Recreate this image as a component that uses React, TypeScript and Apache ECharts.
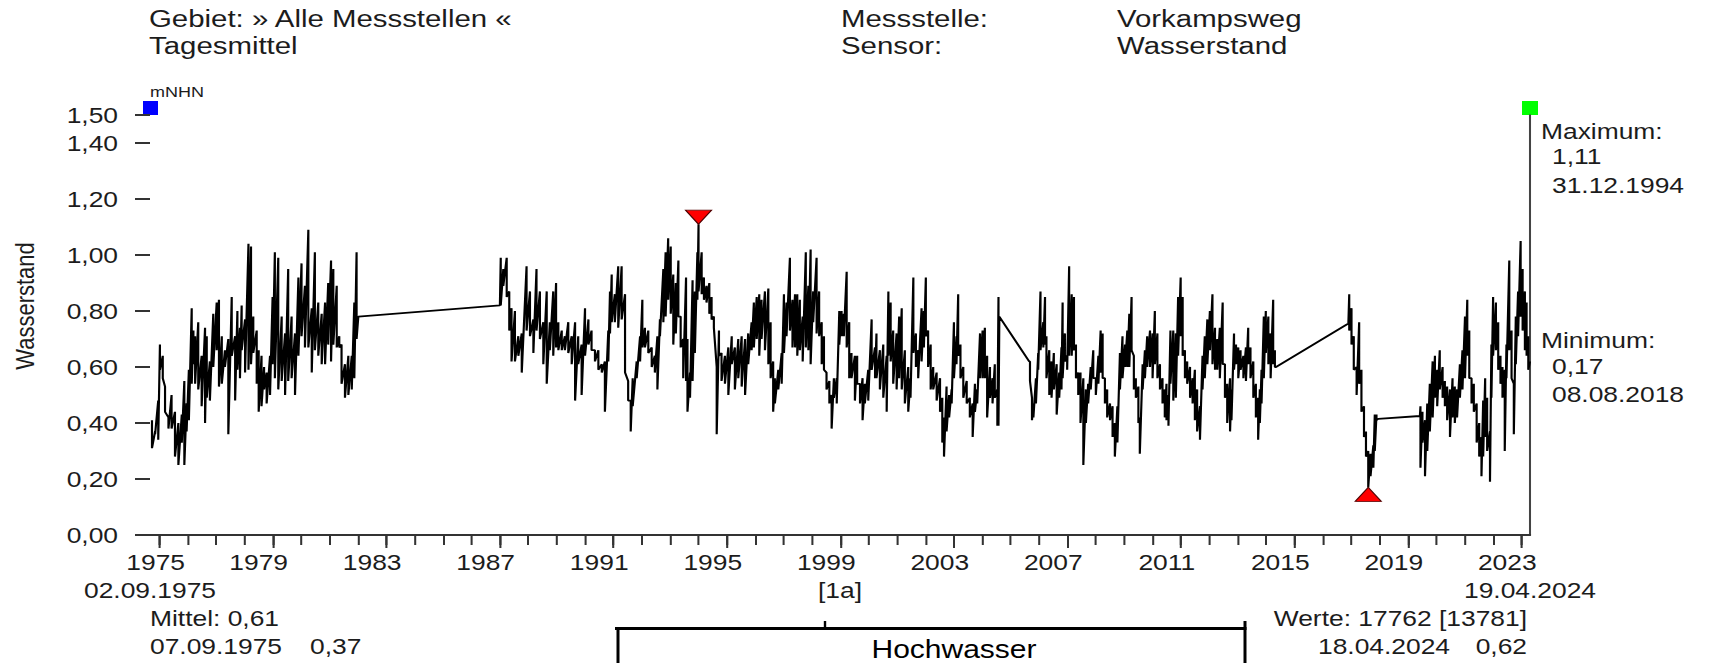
import React, { useEffect, useRef } from 'react';
import * as echarts from 'echarts';

// ---------- data (decimal years, water level in m NHN) ----------
const X_START = 1975.67; // 02.09.1975
const X_END = 2024.3; // 19.04.2024
const LABEL_YEARS = [1975, 1979, 1983, 1987, 1991, 1995, 1999, 2003, 2007, 2011, 2015, 2019, 2023];
const Y_TICKS = [0, 0.2, 0.4, 0.6, 0.8, 1.0, 1.2, 1.4, 1.5];
const MAX_POINT = [1995.0, 1.11]; // 31.12.1994
const MIN_POINT = [2018.6, 0.17]; // 08.08.2018

// [year, high, low] envelope readings of the daily means
const P1975 = [
  [1975.74, 0.41, 0.31], [1975.85, 0.37, 0.36], [1975.96, 0.48, 0.34], [1976.02, 0.68, 0.59], [1976.12, 0.64, 0.56],
  [1976.2, 0.53, 0.44], [1976.32, 0.42, 0.38], [1976.43, 0.5, 0.38], [1976.55, 0.44, 0.28], [1976.67, 0.4, 0.25],
  [1976.79, 0.43, 0.33], [1976.88, 0.55, 0.25], [1976.96, 0.47, 0.37], [1977.04, 0.59, 0.41], [1977.14, 0.81, 0.54],
  [1977.2, 0.73, 0.61], [1977.26, 0.71, 0.54], [1977.37, 0.76, 0.52], [1977.49, 0.64, 0.46], [1977.61, 0.74, 0.4],
  [1977.67, 0.71, 0.49], [1977.78, 0.62, 0.48], [1977.9, 0.79, 0.6], [1978.02, 0.83, 0.66], [1978.1, 0.84, 0.53],
  [1978.2, 0.71, 0.54], [1978.31, 0.66, 0.6], [1978.43, 0.7, 0.36], [1978.55, 0.85, 0.64], [1978.67, 0.71, 0.48],
  [1978.75, 0.8, 0.59], [1978.84, 0.74, 0.56], [1978.9, 0.82, 0.66], [1979.02, 0.77, 0.58], [1979.14, 1.04, 0.59],
  [1979.23, 1.03, 0.61], [1979.31, 0.78, 0.65], [1979.43, 0.73, 0.54], [1979.5, 0.66, 0.44], [1979.6, 0.64, 0.46],
  [1979.69, 0.6, 0.52], [1979.78, 0.58, 0.47], [1979.9, 0.64, 0.5], [1979.99, 0.85, 0.61], [1980.07, 1.01, 0.56],
  [1980.19, 0.99, 0.52], [1980.31, 0.78, 0.55], [1980.43, 0.72, 0.5], [1980.54, 0.95, 0.55], [1980.66, 0.78, 0.56],
  [1980.78, 0.72, 0.5], [1980.9, 0.92, 0.64], [1981.01, 0.97, 0.71], [1981.13, 0.89, 0.67], [1981.25, 1.09, 0.67],
  [1981.37, 0.81, 0.58], [1981.48, 1.01, 0.66], [1981.6, 0.83, 0.64], [1981.72, 0.79, 0.61], [1981.84, 0.83, 0.61],
  [1981.95, 0.9, 0.68], [1982.05, 0.98, 0.62], [1982.13, 0.95, 0.68], [1982.25, 0.89, 0.67], [1982.34, 0.71, 0.67],
  [1982.42, 0.68, 0.54], [1982.54, 0.61, 0.49], [1982.66, 0.64, 0.5], [1982.78, 0.64, 0.52], [1982.87, 0.83, 0.56],
  [1982.95, 1.01, 0.7], [1983.01, 0.78, 0.78],
];

const P1988 = [
  [1988.0, 0.82, 0.82], [1988.03, 0.99, 0.82], [1988.12, 0.95, 0.89], [1988.24, 0.99, 0.85], [1988.33, 0.87, 0.73],
  [1988.41, 0.81, 0.62], [1988.53, 0.8, 0.62], [1988.65, 0.71, 0.64], [1988.77, 0.72, 0.58], [1988.94, 0.96, 0.73],
  [1989.06, 0.87, 0.71], [1989.18, 0.77, 0.65], [1989.29, 0.95, 0.73], [1989.41, 0.87, 0.7], [1989.53, 0.76, 0.61],
  [1989.65, 0.87, 0.54], [1989.76, 0.76, 0.66], [1989.88, 0.87, 0.64], [1989.98, 0.9, 0.67], [1990.06, 0.76, 0.66],
  [1990.18, 0.73, 0.66], [1990.29, 0.71, 0.66], [1990.41, 0.76, 0.65], [1990.53, 0.71, 0.61], [1990.65, 0.76, 0.48],
  [1990.76, 0.71, 0.61], [1990.88, 0.68, 0.5], [1991.0, 0.81, 0.64], [1991.12, 0.77, 0.68], [1991.23, 0.73, 0.66],
  [1991.35, 0.66, 0.62], [1991.47, 0.66, 0.59], [1991.59, 0.61, 0.58], [1991.7, 0.62, 0.44], [1991.82, 0.73, 0.62],
  [1991.88, 0.87, 0.72], [1991.94, 0.93, 0.76], [1992.05, 0.86, 0.76], [1992.17, 0.96, 0.74], [1992.29, 0.96, 0.77],
  [1992.41, 0.86, 0.58], [1992.52, 0.55, 0.48], [1992.61, 0.48, 0.37], [1992.68, 0.56, 0.46], [1992.82, 0.62, 0.56],
  [1992.94, 0.71, 0.62], [1993.02, 0.84, 0.67], [1993.11, 0.74, 0.67], [1993.23, 0.73, 0.65], [1993.35, 0.67, 0.6],
  [1993.46, 0.64, 0.58], [1993.55, 0.71, 0.52], [1993.64, 0.77, 0.71], [1993.76, 0.95, 0.76], [1993.84, 1.01, 0.78],
  [1993.93, 1.06, 0.84], [1994.02, 1.03, 0.79], [1994.11, 0.93, 0.68], [1994.2, 0.9, 0.72], [1994.29, 0.98, 0.78],
  [1994.37, 0.78, 0.67], [1994.46, 0.7, 0.56], [1994.56, 0.92, 0.55], [1994.61, 0.7, 0.44], [1994.7, 0.58, 0.49],
  [1994.79, 0.91, 0.55], [1994.87, 0.87, 0.65], [1994.96, 1.01, 0.84], [1995.0, 1.11, 0.87], [1995.11, 1.01, 0.86],
  [1995.19, 0.92, 0.84], [1995.28, 0.89, 0.83], [1995.38, 0.9, 0.79], [1995.46, 0.85, 0.77], [1995.54, 0.78, 0.74],
  [1995.64, 0.6, 0.36], [1995.72, 0.73, 0.64], [1995.81, 0.65, 0.55], [1995.93, 0.64, 0.54], [1996.05, 0.67, 0.5],
  [1996.17, 0.71, 0.61], [1996.28, 0.67, 0.52], [1996.4, 0.7, 0.56], [1996.52, 0.71, 0.53], [1996.64, 0.7, 0.5],
  [1996.75, 0.72, 0.61], [1996.87, 0.76, 0.66], [1996.95, 0.83, 0.67], [1997.05, 0.85, 0.7], [1997.14, 0.86, 0.64],
  [1997.22, 0.84, 0.7], [1997.34, 0.87, 0.66], [1997.46, 0.88, 0.61], [1997.54, 0.76, 0.56], [1997.63, 0.62, 0.44],
  [1997.69, 0.56, 0.47], [1997.81, 0.59, 0.52], [1997.93, 0.65, 0.54], [1998.01, 0.86, 0.65], [1998.1, 0.83, 0.71],
  [1998.22, 0.99, 0.73], [1998.31, 0.84, 0.67], [1998.4, 0.86, 0.67], [1998.48, 0.86, 0.64], [1998.57, 0.84, 0.66],
  [1998.67, 0.78, 0.62], [1998.78, 1.01, 0.67], [1998.87, 0.89, 0.66], [1998.95, 1.02, 0.61], [1999.04, 0.87, 0.76],
  [1999.16, 0.99, 0.72], [1999.25, 0.87, 0.71], [1999.34, 0.76, 0.61], [1999.42, 0.71, 0.59], [1999.51, 0.58, 0.52],
  [1999.61, 0.55, 0.47], [1999.69, 0.5, 0.38], [1999.77, 0.56, 0.49], [1999.87, 0.56, 0.47], [1999.96, 0.8, 0.68],
  [2000.04, 0.8, 0.71], [2000.12, 0.79, 0.71], [2000.22, 0.94, 0.67], [2000.31, 0.76, 0.56], [2000.39, 0.65, 0.56],
  [2000.51, 0.64, 0.48], [2000.59, 0.64, 0.54], [2000.69, 0.54, 0.47], [2000.78, 0.56, 0.41], [2000.86, 0.54, 0.47],
  [2000.98, 0.59, 0.48], [2001.1, 0.77, 0.59], [2001.22, 0.67, 0.56], [2001.27, 0.72, 0.56], [2001.39, 0.66, 0.52],
  [2001.51, 0.68, 0.49], [2001.63, 0.64, 0.44], [2001.69, 0.87, 0.64], [2001.77, 0.83, 0.62], [2001.86, 0.73, 0.54],
  [2001.98, 0.72, 0.52], [2002.07, 0.78, 0.56], [2002.16, 0.81, 0.52], [2002.27, 0.66, 0.47], [2002.39, 0.6, 0.44],
  [2002.47, 0.56, 0.49], [2002.57, 0.92, 0.65], [2002.66, 0.72, 0.6], [2002.74, 0.66, 0.56], [2002.86, 0.81, 0.62],
  [2002.94, 0.8, 0.67], [2003.01, 0.92, 0.71], [2003.09, 0.73, 0.6], [2003.18, 0.68, 0.52], [2003.27, 0.6, 0.52],
  [2003.39, 0.58, 0.48], [2003.51, 0.56, 0.44], [2003.59, 0.49, 0.33], [2003.65, 0.42, 0.28], [2003.74, 0.53, 0.37],
  [2003.83, 0.5, 0.42], [2003.92, 0.52, 0.47], [2004.0, 0.76, 0.56], [2004.09, 0.71, 0.61], [2004.15, 0.86, 0.64],
  [2004.23, 0.68, 0.56], [2004.33, 0.6, 0.49], [2004.45, 0.55, 0.47], [2004.56, 0.49, 0.42], [2004.66, 0.47, 0.35],
  [2004.74, 0.54, 0.44], [2004.82, 0.52, 0.47], [2004.92, 0.72, 0.56], [2005.01, 0.73, 0.56], [2005.09, 0.74, 0.56],
  [2005.17, 0.64, 0.42], [2005.27, 0.6, 0.49], [2005.36, 0.56, 0.47], [2005.44, 0.61, 0.49], [2005.53, 0.52, 0.39],
  [2005.57, 0.85, 0.39], [2005.6, 0.78, 0.78],
];

const P2006 = [
  [2006.65, 0.62, 0.62], [2006.68, 0.62, 0.55], [2006.75, 0.49, 0.41], [2006.8, 0.47, 0.42], [2006.89, 0.56, 0.47],
  [2006.97, 0.65, 0.59], [2007.05, 0.87, 0.66], [2007.15, 0.76, 0.67], [2007.21, 0.85, 0.68], [2007.26, 0.71, 0.56],
  [2007.36, 0.66, 0.5], [2007.44, 0.62, 0.49], [2007.52, 0.65, 0.52], [2007.62, 0.61, 0.43], [2007.71, 0.58, 0.49],
  [2007.79, 0.67, 0.52], [2007.83, 0.83, 0.56], [2007.91, 0.72, 0.62], [2007.99, 0.64, 0.59], [2008.06, 0.96, 0.64],
  [2008.15, 0.86, 0.64], [2008.23, 0.85, 0.66], [2008.3, 0.68, 0.56], [2008.38, 0.58, 0.5], [2008.46, 0.58, 0.4],
  [2008.56, 0.56, 0.25], [2008.65, 0.52, 0.4], [2008.73, 0.54, 0.47], [2008.82, 0.6, 0.52], [2008.91, 0.66, 0.56],
  [2009.0, 0.56, 0.5], [2009.09, 0.64, 0.54], [2009.17, 0.73, 0.58], [2009.24, 0.72, 0.56], [2009.32, 0.56, 0.47],
  [2009.4, 0.52, 0.42], [2009.5, 0.47, 0.41], [2009.59, 0.46, 0.35], [2009.67, 0.4, 0.28], [2009.76, 0.46, 0.33],
  [2009.85, 0.65, 0.52], [2009.94, 0.71, 0.56], [2010.03, 0.68, 0.6], [2010.11, 0.73, 0.6], [2010.18, 0.79, 0.6],
  [2010.26, 0.85, 0.66], [2010.34, 0.64, 0.52], [2010.41, 0.56, 0.49], [2010.5, 0.53, 0.4], [2010.55, 0.42, 0.29],
  [2010.65, 0.61, 0.52], [2010.73, 0.66, 0.56], [2010.81, 0.71, 0.6], [2010.91, 0.73, 0.6], [2011.0, 0.72, 0.56],
  [2011.08, 0.8, 0.61], [2011.17, 0.72, 0.56], [2011.26, 0.61, 0.52], [2011.35, 0.56, 0.47], [2011.43, 0.52, 0.42],
  [2011.49, 0.54, 0.41], [2011.56, 0.5, 0.39], [2011.63, 0.73, 0.54], [2011.73, 0.73, 0.48], [2011.82, 0.72, 0.49],
  [2011.9, 0.85, 0.64], [2011.99, 0.92, 0.71], [2012.06, 0.85, 0.64], [2012.14, 0.66, 0.56], [2012.22, 0.62, 0.54],
  [2012.32, 0.6, 0.49], [2012.41, 0.56, 0.47], [2012.49, 0.59, 0.41], [2012.57, 0.52, 0.37], [2012.67, 0.46, 0.34],
  [2012.76, 0.64, 0.52], [2012.84, 0.71, 0.56], [2012.93, 0.77, 0.61], [2013.02, 0.8, 0.66], [2013.11, 0.86, 0.61],
  [2013.2, 0.74, 0.59], [2013.28, 0.7, 0.59], [2013.37, 0.74, 0.56], [2013.47, 0.83, 0.61], [2013.55, 0.61, 0.49],
  [2013.63, 0.54, 0.4], [2013.73, 0.56, 0.37], [2013.78, 0.52, 0.41], [2013.87, 0.72, 0.59], [2013.94, 0.68, 0.61],
  [2014.02, 0.67, 0.56], [2014.1, 0.66, 0.59], [2014.2, 0.64, 0.56], [2014.29, 0.67, 0.55], [2014.37, 0.74, 0.61],
  [2014.45, 0.67, 0.56], [2014.55, 0.62, 0.49], [2014.64, 0.54, 0.42], [2014.72, 0.49, 0.34], [2014.78, 0.52, 0.4],
  [2014.84, 0.59, 0.47], [2014.92, 0.78, 0.56], [2014.99, 0.8, 0.65], [2015.08, 0.78, 0.61], [2015.16, 0.72, 0.56],
  [2015.25, 0.84, 0.61], [2015.31, 0.66, 0.6], [2015.35, 0.6, 0.6],
];

const P2017 = [
  [2017.9, 0.755, 0.755], [2017.93, 0.86, 0.73], [2018.01, 0.81, 0.68], [2018.09, 0.71, 0.59], [2018.19, 0.6, 0.5],
  [2018.28, 0.76, 0.54], [2018.36, 0.59, 0.44], [2018.45, 0.46, 0.35], [2018.52, 0.37, 0.28], [2018.6, 0.3, 0.17],
  [2018.68, 0.29, 0.21], [2018.78, 0.32, 0.24], [2018.83, 0.43, 0.3], [2018.89, 0.43, 0.41], [2018.95, 0.415, 0.415],
];

const P2020 = [
  [2020.42, 0.425, 0.425], [2020.44, 0.46, 0.24], [2020.51, 0.44, 0.33], [2020.6, 0.41, 0.21], [2020.68, 0.47, 0.3],
  [2020.77, 0.54, 0.37], [2020.87, 0.62, 0.42], [2020.95, 0.64, 0.49], [2021.03, 0.59, 0.46], [2021.12, 0.66, 0.52],
  [2021.22, 0.6, 0.49], [2021.3, 0.55, 0.46], [2021.38, 0.53, 0.41], [2021.48, 0.52, 0.35], [2021.57, 0.56, 0.42],
  [2021.65, 0.53, 0.4], [2021.73, 0.52, 0.42], [2021.83, 0.61, 0.49], [2021.92, 0.66, 0.52], [2022.01, 0.78, 0.56],
  [2022.09, 0.84, 0.64], [2022.16, 0.73, 0.56], [2022.24, 0.56, 0.47], [2022.32, 0.54, 0.44], [2022.42, 0.47, 0.33],
  [2022.51, 0.4, 0.28], [2022.59, 0.35, 0.21], [2022.65, 0.48, 0.28], [2022.72, 0.56, 0.35], [2022.79, 0.49, 0.3],
  [2022.89, 0.37, 0.19], [2022.94, 0.68, 0.49], [2023.0, 0.85, 0.64], [2023.1, 0.83, 0.66], [2023.18, 0.76, 0.59],
  [2023.26, 0.64, 0.54], [2023.33, 0.6, 0.49], [2023.41, 0.59, 0.3], [2023.47, 0.68, 0.56], [2023.57, 0.98, 0.66],
  [2023.65, 0.73, 0.56], [2023.73, 0.54, 0.36], [2023.8, 0.78, 0.61], [2023.88, 0.87, 0.71], [2023.97, 1.05, 0.78],
  [2024.04, 0.95, 0.73], [2024.12, 0.87, 0.66], [2024.18, 0.83, 0.64], [2024.24, 0.71, 0.59], [2024.3, 0.62, 0.62],
];

// ---------- layout helpers ----------
const S = 1.2; // horizontal stretch of the reference rendering
const PAGE_W = 1710;
const PAGE_H = 663;
const W = PAGE_W / S;
const u = (x: number) => x / S;
const FONT = '"Liberation Sans", Arial, Helvetica, sans-serif';
const INK = '#1c1c1c';

const txt = (text: string, x: number, y: number, o: any = {}) => ({
  type: 'text',
  x: u(x),
  y,
  silent: true,
  rotation: o.rotation || 0,
  style: {
    text,
    fontSize: o.size || 22,
    fontFamily: FONT,
    fill: o.color || INK,
    textAlign: o.align || 'left',
    textVerticalAlign: 'middle',
  },
});

const fmtY = (v: number) => v.toFixed(2).replace('.', ',');

export default function App() {
  const ref = useRef<HTMLDivElement>(null);

  useEffect(() => {
    if (!ref.current) return;
    const chart = echarts.init(ref.current, undefined, { renderer: 'svg' });

    const all = [...P1975, ...P1988, ...P2006, ...P2017, ...P2020];
    const data: number[][] = [];
    all.forEach(([t, hi, lo]) => {
      data.push([t, hi]);
      if (lo !== hi) data.push([t, lo]);
    });

    const yearTicks: number[] = [];
    for (let y = Math.ceil(X_START); y <= Math.floor(X_END); y++) yearTicks.push(y);
    const majorTicks = LABEL_YEARS.map((y) => y + 1);
    const labelPos = LABEL_YEARS.map((y) => Math.max(y + 0.5, X_START + 0.2));

    const axisColor = '#333';

    const option: any = {
      animation: false,
      backgroundColor: '#fff',
      textStyle: { fontFamily: FONT },
      grid: { left: u(150), right: W - u(1530), top: 115, bottom: PAGE_H - 535, containLabel: false },
      xAxis: [
        {
          type: 'value',
          min: X_START,
          max: X_END,
          position: 'bottom',
          axisLine: { show: true, lineStyle: { color: axisColor, width: 2 } },
          axisTick: { show: true, length: 10, customValues: yearTicks, lineStyle: { color: axisColor, width: 1.7 } },
          axisLabel: { show: false },
          splitLine: { show: false },
        },
        {
          type: 'value',
          min: X_START,
          max: X_END,
          position: 'bottom',
          axisLine: { show: false },
          axisTick: { show: true, length: 13, customValues: majorTicks, lineStyle: { color: axisColor, width: 1.7 } },
          axisLabel: {
            show: true,
            customValues: labelPos,
            formatter: (v: number) => String(Math.floor(v)),
            margin: 16,
            fontSize: 22,
            color: INK,
            fontFamily: FONT,
          },
          splitLine: { show: false },
        },
      ],
      yAxis: [
        {
          type: 'value',
          min: 0,
          max: 1.5,
          position: 'left',
          axisLine: { show: false },
          axisTick: { show: true, length: u(15), customValues: Y_TICKS, lineStyle: { color: axisColor, width: 2 } },
          axisLabel: {
            customValues: Y_TICKS,
            formatter: fmtY,
            margin: u(32),
            fontSize: 22,
            color: INK,
            fontFamily: FONT,
          },
          splitLine: { show: false },
        },
        {
          type: 'value',
          min: 0,
          max: 1.5,
          position: 'right',
          axisLine: { show: true, lineStyle: { color: '#444', width: 1.7 } },
          axisTick: { show: false },
          axisLabel: { show: false },
          splitLine: { show: false },
        },
      ],
      series: [
        {
          type: 'line',
          name: 'Wasserstand',
          xAxisIndex: 0,
          yAxisIndex: 0,
          data,
          symbol: 'none',
          showSymbol: false,
          lineStyle: { color: '#000', width: 1.8 },
          silent: true,
          markPoint: {
            symbol: 'triangle',
            symbolSize: [u(26), 14],
            label: { show: false },
            itemStyle: { color: '#ff0000', borderColor: '#500000', borderWidth: 1 },
            data: [
              { coord: MAX_POINT, symbolRotate: 180, symbolOffset: [0, -7] },
              { coord: MIN_POINT, symbolOffset: [0, 7] },
            ],
          },
        },
      ],
      graphic: [
        // header
        txt('Gebiet: » Alle Messstellen «', 149, 18.5, { size: 24.5 }),
        txt('Tagesmittel', 149, 46, { size: 24.5 }),
        txt('Messstelle:', 841, 18.5, { size: 24.5 }),
        txt('Sensor:', 841, 46, { size: 24.5 }),
        txt('Vorkampsweg', 1117, 18.5, { size: 24.5 }),
        txt('Wasserstand', 1117, 46, { size: 24.5 }),
        // unit and corner markers
        txt('mNHN', 150, 92, { size: 15 }),
        { type: 'rect', silent: true, shape: { x: u(143), y: 101, width: u(15), height: 14 }, style: { fill: '#0000ff' } },
        { type: 'rect', silent: true, shape: { x: u(1522), y: 101, width: u(16), height: 14 }, style: { fill: '#00ff00' } },
        // y axis name
        txt('Wasserstand', 24.5, 306, { size: 22, align: 'center', rotation: Math.PI / 2 }),
        // max / min info
        txt('Maximum:', 1541, 131),
        txt('1,11', 1552, 156.5),
        txt('31.12.1994', 1552, 185),
        txt('Minimum:', 1541, 340),
        txt('0,17', 1552, 366.5),
        txt('08.08.2018', 1552, 394.5),
        // bottom info
        txt('02.09.1975', 150, 590, { align: 'center' }),
        txt('[1a]', 840, 590, { align: 'center' }),
        txt('19.04.2024', 1530, 590, { align: 'center' }),
        txt('Mittel: 0,61', 150, 618),
        txt('07.09.1975', 150, 646),
        txt('0,37', 310, 646),
        txt('Werte: 17762 [13781]', 1527, 618, { align: 'right' }),
        txt('18.04.2024', 1318, 646),
        txt('0,62', 1527, 646, { align: 'right' }),
        // Hochwasser box
        { type: 'line', silent: true, shape: { x1: u(615), y1: 628.5, x2: u(1246.5), y2: 628.5 }, style: { stroke: '#000', lineWidth: 3 } },
        { type: 'line', silent: true, shape: { x1: u(618), y1: 628, x2: u(618), y2: 690 }, style: { stroke: '#000', lineWidth: 2.5 } },
        { type: 'line', silent: true, shape: { x1: u(1245), y1: 621, x2: u(1245), y2: 690 }, style: { stroke: '#000', lineWidth: 2.5 } },
        { type: 'line', silent: true, shape: { x1: u(825), y1: 621, x2: u(825), y2: 628 }, style: { stroke: '#000', lineWidth: 2 } },
        txt('Hochwasser', 954, 649.5, { size: 25, align: 'center', color: '#000' }),
      ],
    };

    chart.setOption(option);
    return () => chart.dispose();
  }, []);

  return (
    <div
      ref={ref}
      style={{
        position: 'fixed',
        left: 0,
        top: 0,
        width: W,
        height: PAGE_H,
        transform: `scaleX(${S})`,
        transformOrigin: '0 0',
        background: '#fff',
      }}
    />
  );
}
